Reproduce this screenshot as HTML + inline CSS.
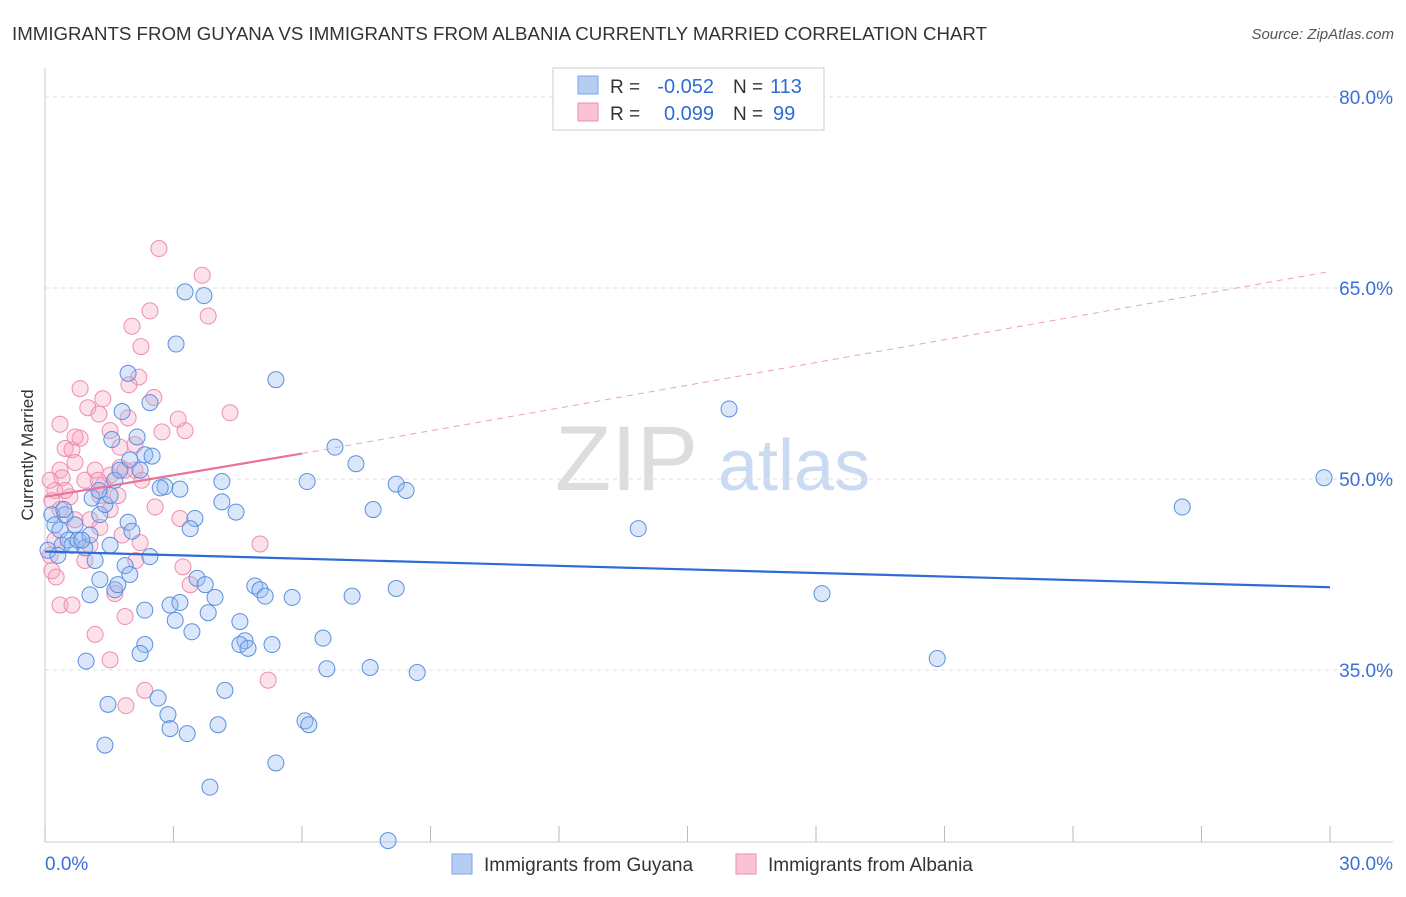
<!DOCTYPE html>
<html><head><meta charset="utf-8"><style>
body{margin:0;background:#fff;font-family:"Liberation Sans",sans-serif;}
svg text{font-family:"Liberation Sans",sans-serif;}
</style></head><body>
<svg id="chart" width="1406" height="892" xmlns="http://www.w3.org/2000/svg">
<text x="12" y="40" font-size="18" fill="#333" textLength="975" lengthAdjust="spacingAndGlyphs">IMMIGRANTS FROM GUYANA VS IMMIGRANTS FROM ALBANIA CURRENTLY MARRIED CORRELATION CHART</text>
<text x="1394" y="39" font-size="15" fill="#555" text-anchor="end" font-style="italic">Source: ZipAtlas.com</text>
<text transform="translate(33,455) rotate(-90)" font-size="17" fill="#333" text-anchor="middle">Currently Married</text>
<g><text x="555" y="490" font-size="92" fill="#ddd" font-family="Liberation Serif">ZIP</text><text x="718" y="490" font-size="72" fill="#c9daf2">atlas</text></g>
<g id="grid"></g><g id="marks"></g><g id="trends"></g>
<g>
<rect x="553" y="68" width="271" height="62" fill="#fff" stroke="#ccc"/>
<rect x="578" y="76" width="20" height="18" fill="#b5cdf3" stroke="#7aa3e8"/>
<rect x="578" y="103" width="20" height="18" fill="#f9c3d5" stroke="#ee8db0"/>
<text x="610" y="93" font-size="19" fill="#333">R =</text>
<text x="714" y="93" font-size="20" fill="#2f6bd6" text-anchor="end">-0.052</text>
<text x="733" y="93" font-size="19" fill="#333">N =</text>
<text x="770" y="93" font-size="20" fill="#2f6bd6">113</text>
<text x="610" y="120" font-size="19" fill="#333">R =</text>
<text x="714" y="120" font-size="20" fill="#2f6bd6" text-anchor="end">0.099</text>
<text x="733" y="120" font-size="19" fill="#333">N =</text>
<text x="773" y="120" font-size="20" fill="#2f6bd6">99</text>
</g>
<g>
<rect x="452" y="854" width="20" height="20" fill="#b5cdf3" stroke="#7aa3e8"/>
<text x="484" y="871" font-size="19" fill="#333">Immigrants from Guyana</text>
<rect x="736" y="854" width="20" height="20" fill="#f9c3d5" stroke="#ee8db0"/>
<text x="768" y="871" font-size="19" fill="#333">Immigrants from Albania</text>
</g>
</svg>
<script>
const yTicks=[35,50,65,80];
const xTickLabels=["0.0%","30.0%"];
const guyanaX=[3.27,3.71,3.06,5.39,1.94,1.80,2.45,15.97,6.77,7.26,8.20,8.43,6.12,7.66,29.86,26.55,13.85,18.14,20.83,0.16,0.23,0.35,0.40,0.54,0.63,0.77,0.93,1.05,1.17,1.28,1.40,1.52,1.63,1.75,1.98,2.22,2.33,2.50,2.80,3.15,3.50,3.39,4.13,4.13,4.46,1.52,1.87,1.98,1.28,1.05,1.63,2.33,2.92,3.15,3.04,3.43,3.55,3.74,3.97,3.81,4.90,5.02,5.14,5.77,6.49,7.17,8.20,4.55,4.67,4.55,4.74,5.30,2.33,2.22,0.96,1.47,2.64,2.87,2.92,3.32,4.20,4.04,6.07,6.16,6.58,7.59,8.69,1.40,5.39,3.85,8.01,0.07,0.30,0.47,0.70,1.94,2.03,1.70,2.45,1.10,1.26,1.56,2.15,0.86,0.44,2.69];
const guyanaY=[64.7,64.4,60.6,57.8,58.3,55.3,56.0,55.5,52.5,51.2,49.6,49.1,49.8,47.6,50.1,47.8,46.1,41.0,35.9,47.2,46.4,46.0,44.8,45.2,44.8,45.2,44.6,45.6,43.6,47.2,48.0,48.7,49.9,50.7,51.5,50.7,51.9,51.8,49.4,49.2,46.9,46.1,49.8,48.2,47.4,44.8,43.2,42.5,42.1,40.9,41.3,39.7,40.1,40.3,38.9,38.0,42.2,41.7,40.7,39.5,41.6,41.3,40.8,40.7,37.5,40.8,41.4,38.8,37.3,37.0,36.7,37.0,37.0,36.3,35.7,32.3,32.8,31.5,30.4,30.0,33.4,30.7,31.0,30.7,35.1,35.2,34.8,29.1,27.7,25.8,21.6,44.4,44.0,47.2,46.4,46.6,45.9,41.7,43.9,48.5,49.1,53.1,53.3,45.2,47.6,49.3];
const albaniaX=[2.66,3.67,3.81,2.03,2.45,2.24,2.19,1.96,0.82,1.35,1.00,1.26,1.52,1.94,2.54,2.10,3.27,3.11,2.73,4.32,0.35,0.47,0.63,0.82,0.70,0.35,0.40,0.93,1.17,1.35,1.52,1.75,2.10,2.26,2.57,1.70,1.28,0.58,0.23,0.12,0.16,0.35,1.05,1.28,0.23,0.12,0.16,0.26,0.35,0.63,1.17,1.52,1.63,1.87,2.22,2.12,1.80,3.15,3.22,3.39,5.02,5.21,2.33,1.89,0.93,1.05,1.52,0.70,0.47,1.87,1.24,1.75,0.70];
const albaniaY=[68.1,66.0,62.8,62.0,63.2,60.4,58.0,57.4,57.1,56.3,55.6,55.1,53.8,54.8,56.4,52.7,53.8,54.7,53.7,55.2,54.3,52.4,52.3,53.2,51.3,50.7,50.1,49.9,50.7,49.5,50.3,50.9,50.7,49.9,47.8,48.7,48.7,48.6,49.1,49.9,48.3,47.6,46.8,46.2,45.2,44.0,42.8,42.3,40.1,40.1,37.8,35.8,41.0,39.2,45.0,43.6,45.6,46.9,43.1,41.7,44.9,34.2,33.4,32.2,43.6,44.8,47.6,46.8,49.1,50.7,49.9,52.5,53.3];
const guyanaTrend=[44.3,41.5];
const albaniaTrend=[48.6,52.0,66.3];
const NS="http://www.w3.org/2000/svg";
const sx=v=>45+v/30*1285, sy=v=>97+(80-v)*191/15;
function mk(tag,attrs,parent){const e=document.createElementNS(NS,tag);for(const k in attrs)e.setAttribute(k,attrs[k]);parent.appendChild(e);return e;}
const grid=document.getElementById('grid');
yTicks.forEach(t=>{
 const l=mk('line',{x1:45,x2:1393,y1:sy(t),y2:sy(t),stroke:'#ddd','stroke-dasharray':'4,4'},grid);
 
 
 const tx=mk('text',{x:1393,y:sy(t)+7,'font-size':19,fill:'#3b6fd6','text-anchor':'end'},grid);
 tx.textContent=t.toFixed(1)+'%';
 
 
});
const ax=mk('line',{x1:45,x2:1393,y1:842,y2:842,stroke:'#ccc'},grid);


const ay=mk('line',{x1:45,x2:45,y1:68,y2:842,stroke:'#ccc'},grid);


for(let i=0;i<=10;i++){const v=i*3;const t=mk('line',{x1:sx(v),x2:sx(v),y1:826,y2:842,stroke:'#bbb'},grid);
 
 }
[[0,'start',45],[30,'end',1393]].forEach((d,i)=>{const t=mk('text',{x:d[2],y:870,'font-size':19,fill:'#3b6fd6','text-anchor':d[1]},grid);t.textContent=xTickLabels[i];
 
 });
const marks=document.getElementById('marks');
albaniaX.forEach((x,i)=>{const c=mk('circle',{cx:sx(x),cy:sy(albaniaY[i]),r:8,fill:'rgba(246,170,196,0.35)',stroke:'#ee8db0','stroke-width':1},marks);
 
 });
guyanaX.forEach((x,i)=>{const c=mk('circle',{cx:sx(x),cy:sy(guyanaY[i]),r:8,fill:'rgba(150,185,240,0.35)',stroke:'#5b8fe0','stroke-width':1},marks);
 
 });
const tr=document.getElementById('trends');
const gt=mk('line',{x1:sx(0),y1:sy(guyanaTrend[0]),x2:sx(30),y2:sy(guyanaTrend[1]),stroke:'#2f6bd6','stroke-width':2.2},tr);


const at=mk('line',{x1:sx(0),y1:sy(albaniaTrend[0]),x2:sx(6),y2:sy(albaniaTrend[1]),stroke:'#e8739b','stroke-width':2.2},tr);


const ad=mk('line',{x1:sx(6),y1:sy(albaniaTrend[1]),x2:sx(30),y2:sy(albaniaTrend[2]),stroke:'#eea0bb','stroke-width':1,'stroke-dasharray':'6,5'},tr);


</script>
</body></html>
